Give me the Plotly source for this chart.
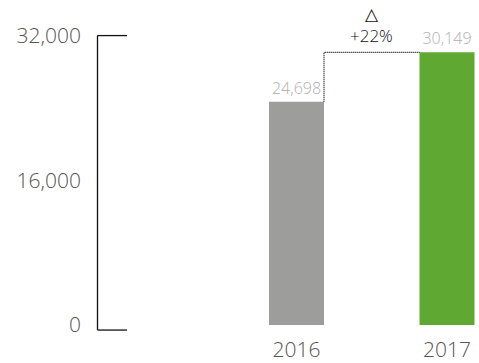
import plotly.graph_objects as go

# Annual totals
years = ["2016", "2017"]
values = [24698, 30149]
bar_colors = ["#9d9d9b", "#5fa932"]
y_ticks = [0, 16000, 32000]
y_tick_text = ["0", "16,000", "32,000"]

W, H = 479, 363
FONT = "Open Sans"

# Pixel layout helpers (plot area spans x from L_PX to W, y from 0 to H - B_PX)
L_PX = 92
B_PX = 24
X0_PX, X1_PX = 296.5, 447.0          # bar centres
PX_PER_CAT = X1_PX - X0_PX
ZERO_PX, TOP_PX = 329.0, 36.0         # y pixel of 0 and of 32,000
PX_PER_UNIT = (ZERO_PX - TOP_PX) / y_ticks[-1]

x_lo = (L_PX - X0_PX) / PX_PER_CAT
x_hi = (W - X0_PX) / PX_PER_CAT
y_hi = y_ticks[-1] + TOP_PX / PX_PER_UNIT
y_lo = -(H - B_PX - ZERO_PX) / PX_PER_UNIT

bar_w = 55 / PX_PER_CAT
xs = list(range(len(years)))

fig = go.Figure()
fig.add_trace(go.Bar(
    x=xs, y=values, width=bar_w,
    marker=dict(color=bar_colors, line=dict(width=0)),
    text=[f"{v:,}" for v in values],
    textposition="outside",
    textfont=dict(family=FONT, size=16, color="#b0b0b0", weight=300),
    cliponaxis=False,
    hoverinfo="skip",
))

# Dotted step connecting the two bar tops
fig.add_trace(go.Scatter(
    x=[xs[0] + bar_w / 2, xs[0] + bar_w / 2, xs[1] - bar_w / 2],
    y=[values[0], values[1], values[1]],
    mode="lines",
    line=dict(color="#000000", width=1.2, dash="1px,1px"),
    hoverinfo="skip",
))

pct = (values[1] / values[0] - 1) * 100
fig.add_annotation(
    x=(xs[0] + xs[1]) / 2, y=values[1],
    text=f"△<br>+{pct:.0f}%",
    showarrow=False, yanchor="bottom", yshift=3,
    font=dict(family=FONT, size=17, color="#111111", weight=300),
)

# Bracket-style value axis
ax_x = x_lo + (97.5 - L_PX) / PX_PER_CAT
tick_end = x_lo + (127 - L_PX) / PX_PER_CAT
bracket_bottom = -5 / PX_PER_UNIT
line = dict(color="#111111", width=1.3)
fig.add_shape(type="line", x0=ax_x, x1=ax_x, y0=bracket_bottom, y1=y_ticks[-1], line=line)
fig.add_shape(type="line", x0=ax_x, x1=tick_end, y0=y_ticks[-1], y1=y_ticks[-1], line=line)
fig.add_shape(type="line", x0=ax_x, x1=tick_end, y0=bracket_bottom, y1=bracket_bottom, line=line)

fig.update_layout(
    width=W, height=H,
    margin=dict(l=0, r=0, t=0, b=B_PX),
    paper_bgcolor="white", plot_bgcolor="white",
    showlegend=False,
    xaxis=dict(
        domain=[L_PX / W, 1], range=[x_lo, x_hi],
        tickvals=xs, ticktext=years,
        showgrid=False, zeroline=False, showline=False, ticks="",
        tickfont=dict(family=FONT, size=21, color="#555555", weight=300),
        ticklabelstandoff=0,
    ),
    yaxis=dict(
        range=[y_lo, y_hi],
        tickvals=y_ticks, ticktext=y_tick_text,
        showgrid=False, zeroline=False, showline=False, ticks="",
        tickfont=dict(family=FONT, size=21, color="#555555", weight=300),
        ticklabelstandoff=10,
    ),
)

fig.write_html("out.html")
